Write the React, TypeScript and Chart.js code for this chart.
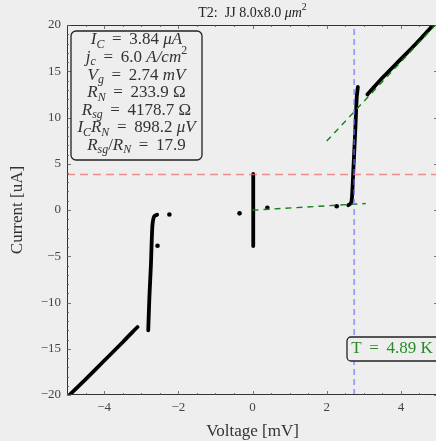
import React, { useEffect, useRef } from "react";
import { Chart, registerables } from "chart.js";

Chart.register(...registerables);

// ---- data ----
const negBranchV = [-5.0, -4.5, -4.0, -3.5, -3.25, -3.1];
const negBranchI = [-20.25, -18.3, -16.3, -14.3, -13.25, -12.65];
const negJumpV = [-2.81, -2.78, -2.74, -2.7, -2.67, -2.63, -2.57];
const negJumpI = [-13.0, -9.5, -6.1, -1.8, -0.9, -0.62, -0.52];
const zeroV = [0.02, 0.02, 0.02];
const zeroI = [-3.9, 0, 3.9];
const posJumpV = [2.58, 2.65, 2.68, 2.72, 2.77, 2.81, 2.84];
const posJumpI = [0.52, 0.72, 1.3, 4.5, 8.6, 12.2, 13.3];
const posBranchV = [3.1, 3.3, 3.53, 3.97, 4.4, 4.78, 5.0];
const posBranchI = [12.5, 13.4, 14.4, 16.2, 17.95, 19.6, 20.5];
const strayV = [-2.56, -2.24, -0.35, 0.4, 2.27];
const strayI = [-3.86, -0.48, -0.36, 0.25, 0.4];
const subgapFitV = [0.0, 3.05];
const subgapFitI = [-0.02, 0.7];
const normalFitV = [2.0, 5.0];
const normalFitI = [7.45, 20.3];
const Ic = 3.84;
const Vg = 2.74;
const xTicks = [-4, -2, 0, 2, 4];
const yTicks = [-20, -15, -10, -5, 0, 5, 10, 15, 20];
const tempLabel = "T = 4.89 K";

const FONT = "'Liberation Serif', 'DejaVu Serif', serif";
const BG = "#eeeeee";
const EQ = " \u2009=\u2009 ";

const pts = (xs: number[], ys: number[]) => xs.map((x, i) => ({ x, y: ys[i] }));

type Seg = { t: string; it?: boolean; sub?: boolean; sup?: boolean };

function richWidth(ctx: CanvasRenderingContext2D, segs: Seg[], size: number) {
  let w = 0;
  for (const s of segs) {
    const fs = s.sub || s.sup ? size * 0.7 : size;
    ctx.font = `${s.it ? "italic " : ""}${fs}px ${FONT}`;
    w += ctx.measureText(s.t).width;
  }
  return w;
}
function drawRich(ctx: CanvasRenderingContext2D, segs: Seg[], cx: number, cy: number, size: number, color: string) {
  const w = richWidth(ctx, segs, size);
  let x = cx - w / 2;
  ctx.fillStyle = color;
  ctx.textBaseline = "middle";
  ctx.textAlign = "left";
  for (const s of segs) {
    const fs = s.sub || s.sup ? size * 0.7 : size;
    ctx.font = `${s.it ? "italic " : ""}${fs}px ${FONT}`;
    const dy = s.sub ? size * 0.28 : s.sup ? -size * 0.38 : 0;
    ctx.fillText(s.t, x, cy + dy);
    x += ctx.measureText(s.t).width;
  }
}

function roundRect(ctx: CanvasRenderingContext2D, x: number, y: number, w: number, h: number, r: number) {
  ctx.beginPath();
  ctx.moveTo(x + r, y);
  ctx.lineTo(x + w - r, y);
  ctx.arcTo(x + w, y, x + w, y + r, r);
  ctx.lineTo(x + w, y + h - r);
  ctx.arcTo(x + w, y + h, x + w - r, y + h, r);
  ctx.lineTo(x + r, y + h);
  ctx.arcTo(x, y + h, x, y + h - r, r);
  ctx.lineTo(x, y + r);
  ctx.arcTo(x, y, x + r, y, r);
  ctx.closePath();
}

const decor = {
  id: "decor",
  beforeDraw(chart: any) {
    const ctx = chart.ctx;
    ctx.save();
    ctx.fillStyle = BG;
    ctx.fillRect(0, 0, chart.width, chart.height);
    ctx.restore();
  },
  afterDraw(chart: any) {
    const ctx: CanvasRenderingContext2D = chart.ctx;
    const a = chart.chartArea;
    const xs = chart.scales.x;
    const ys = chart.scales.y;
    ctx.save();
    // spines
    ctx.strokeStyle = "#333";
    ctx.lineWidth = 1;
    ctx.strokeRect(a.left + 0.5, a.top + 0.5, a.right - a.left - 1, a.bottom - a.top - 1);
    // inward ticks
    ctx.strokeStyle = "#555";
    ctx.lineWidth = 0.8;
    ctx.beginPath();
    for (let v = -5; v <= 5.001; v += 0.5) {
      const major = Math.abs(v / 2 - Math.round(v / 2)) < 1e-6;
      const len = major ? 4 : 2;
      const px = Math.round(xs.getPixelForValue(v)) + 0.5;
      ctx.moveTo(px, a.bottom);
      ctx.lineTo(px, a.bottom - len);
      ctx.moveTo(px, a.top);
      ctx.lineTo(px, a.top + len);
    }
    for (let v = -20; v <= 20; v += 1) {
      const major = v % 5 === 0;
      const len = major ? 4 : 2;
      const py = Math.round(ys.getPixelForValue(v)) + 0.5;
      ctx.moveTo(a.left, py);
      ctx.lineTo(a.left + len, py);
      ctx.moveTo(a.right, py);
      ctx.lineTo(a.right - len, py);
    }
    ctx.stroke();

    // title
    const cx = (a.left + a.right) / 2;
    drawRich(ctx, [{ t: "T2:  JJ 8.0x8.0 " }, { t: "μm", it: true }, { t: "2", sup: true }], cx, 13, 14, "#222");
    // axis titles
    drawRich(ctx, [{ t: "Voltage [mV]" }], cx, 432, 17, "#333");
    ctx.save();
    ctx.translate(18, (a.top + a.bottom) / 2);
    ctx.rotate(-Math.PI / 2);
    drawRich(ctx, [{ t: "Current [uA]" }], 0, 0, 17, "#333");
    ctx.restore();

    // parameter box
    const bx = 71, by = 31, bw = 131, bh = 129;
    ctx.fillStyle = BG;
    roundRect(ctx, bx, by, bw, bh, 5);
    ctx.fill();
    ctx.strokeStyle = "#222";
    ctx.lineWidth = 1.3;
    ctx.stroke();
    const lines: Seg[][] = [
      [{ t: "I", it: true }, { t: "C", it: true, sub: true }, { t: EQ + "3.84 " }, { t: "μA", it: true }],
      [{ t: "j", it: true }, { t: "c", it: true, sub: true }, { t: EQ + "6.0 " }, { t: "A/cm", it: true }, { t: "2", sup: true }],
      [{ t: "V", it: true }, { t: "g", it: true, sub: true }, { t: EQ + "2.74 " }, { t: "mV", it: true }],
      [{ t: "R", it: true }, { t: "N", it: true, sub: true }, { t: EQ + "233.9 Ω" }],
      [{ t: "R", it: true }, { t: "sg", it: true, sub: true }, { t: EQ + "4178.7 Ω" }],
      [{ t: "I", it: true }, { t: "C", it: true, sub: true }, { t: "R", it: true }, { t: "N", it: true, sub: true }, { t: EQ + "898.2 " }, { t: "μV", it: true }],
      [{ t: "R", it: true }, { t: "sg", it: true, sub: true }, { t: "/" }, { t: "R", it: true }, { t: "N", it: true, sub: true }, { t: EQ + "17.9" }],
    ];
    lines.forEach((l, i) => drawRich(ctx, l, bx + bw / 2, 40 + i * 17.6, 17, "#333"));

    // temperature box
    const tx = 347, ty = 337, tw = 96, th = 24;
    ctx.fillStyle = BG;
    roundRect(ctx, tx, ty, tw, th, 4);
    ctx.fill();
    ctx.strokeStyle = "#222";
    ctx.lineWidth = 1.3;
    ctx.stroke();
    drawRich(ctx, [{ t: "T" + EQ + "4.89 K" }], 392, ty + th / 2, 17, "#2a8a2a");
    ctx.restore();
  },
};

export default function App() {
  const ref = useRef<HTMLCanvasElement>(null);
  useEffect(() => {
    if (!ref.current) return;
    const black = (data: any[], order = 3) => ({
      data,
      showLine: true,
      borderColor: "#000",
      backgroundColor: "#000",
      borderWidth: 3.8,
      pointRadius: 0,
      borderCapStyle: "round",
      borderJoinStyle: "round",
      tension: 0.3,
      order,
    });
    const chart = new Chart(ref.current, {
      type: "scatter",
      data: {
        datasets: [
          {
            data: [{ x: -5, y: Ic }, { x: 5, y: Ic }],
            showLine: true,
            borderColor: "rgba(240,110,110,0.75)",
            borderWidth: 1.3,
            borderDash: [8, 5],
            pointRadius: 0,
            order: 0,
          },
          {
            data: [{ x: Vg, y: -20 }, { x: Vg, y: 20 }],
            showLine: true,
            borderColor: "rgba(110,110,255,0.65)",
            borderWidth: 1.8,
            borderDash: [6, 4],
            pointRadius: 0,
            order: 0,
          },
          {
            data: pts(subgapFitV, subgapFitI),
            showLine: true,
            borderColor: "rgb(20,130,20)",
            borderWidth: 1.4,
            borderDash: [6, 5],
            pointRadius: 0,
            order: 1,
          },
          {
            data: pts(normalFitV, normalFitI),
            showLine: true,
            borderColor: "rgb(20,130,20)",
            borderWidth: 1.4,
            borderDash: [6, 5],
            pointRadius: 0,
            order: 1,
          },
          black(pts(negBranchV, negBranchI)),
          black(pts(negJumpV, negJumpI)),
          black(pts(zeroV, zeroI)),
          black(pts(posJumpV, posJumpI)),
          black(pts(posBranchV, posBranchI)),
          {
            data: pts(strayV, strayI),
            showLine: false,
            pointRadius: 2.3,
            pointBorderWidth: 0,
            backgroundColor: "#000",
            borderColor: "#000",
            order: 3,
          },
        ],
      } as any,
      options: {
        animation: false,
        responsive: false,
        devicePixelRatio: 1,
        layout: { padding: { top: 25, right: 8, left: 0, bottom: 0 } },
        plugins: { legend: { display: false }, tooltip: { enabled: false }, title: { display: false } },
        scales: {
          x: {
            type: "linear",
            min: -5,
            max: 5,
            grid: { display: false, drawTicks: false },
            border: { display: false },
            afterFit: (s: any) => { s.height = 46; },
            afterBuildTicks: (s: any) => { s.ticks = xTicks.map((v) => ({ value: v })); },
            ticks: {
              padding: 5,
              color: "#444",
              font: { family: FONT, size: 13 },
              callback: (v: any) => String(v).replace("-", "\u2212"),
            },
          },
          y: {
            type: "linear",
            min: -20,
            max: 20,
            grid: { display: false, drawTicks: false },
            border: { display: false },
            afterFit: (s: any) => { s.width = 67; },
            afterBuildTicks: (s: any) => { s.ticks = yTicks.map((v) => ({ value: v })); },
            ticks: {
              padding: 6,
              color: "#444",
              font: { family: FONT, size: 13 },
              callback: (v: any) => String(v).replace("-", "\u2212"),
            },
          },
        },
      } as any,
      plugins: [decor],
    });
    return () => chart.destroy();
  }, []);
  return (
    <div style={{ position: "fixed", left: 0, top: 0, width: 436, height: 441, overflow: "hidden", background: BG }}>
      <canvas ref={ref} width={446} height={441} style={{ width: 446, height: 441, display: "block" }} />
    </div>
  );
}
